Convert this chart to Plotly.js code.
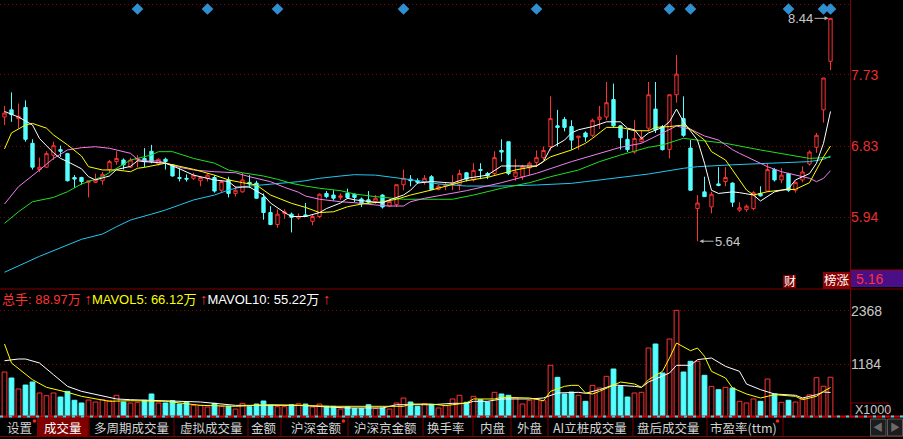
<!DOCTYPE html>
<html><head><meta charset="utf-8">
<script src="https://cdn.plot.ly/plotly-3.0.1.min.js"></script>
<style>html,body{margin:0;padding:0;background:#000;overflow:hidden}#chart{width:903px;height:439px}</style>
</head><body><div id="chart"></div>
<script>
// ---------------- DATA ----------------
const openP  = [7.20,7.29,7.18,7.32,6.87,6.54,6.57,6.72,6.79,6.74, 6.44,6.44,6.38,6.38,6.40,6.54,6.64,6.66,6.57,6.66, 6.68,6.77,6.61,6.67,6.60,6.44,6.43,6.43,6.40,6.43, 6.44,6.28,6.41,6.24,6.26,6.38,6.37,6.19,6.00,5.85, 5.99,5.98,5.93,5.97,5.89,5.95,6.24,6.22,6.19,6.24, 6.23,6.17,6.16,6.14,6.22,6.08,6.10,6.35,6.42,6.40, 6.38,6.45,6.29,6.33,6.35,6.35,6.50,6.41,6.54,6.49, 6.49,6.78,6.89,6.45,6.45,6.56,6.63,6.69,6.83,7.09, 7.17,7.08,6.94,7.00,6.97,7.17,7.20,7.42,7.09,6.92, 6.76,6.89,7.06,7.30,7.08,6.79,7.48,7.18,6.81,6.05, 6.26,6.07,6.36,6.39,6.37,6.03,6.04,6.05,6.24,6.27, 6.54,6.41,6.49,6.28,6.41,6.61,6.82,7.29,7.90];
const highP  = [7.34,7.51,7.37,7.41,6.92,6.69,6.77,6.89,6.84,6.75, 6.47,6.45,6.40,6.49,6.51,6.66,6.77,6.68,6.69,6.72, 6.81,6.85,6.68,6.69,6.60,6.56,6.48,6.50,6.45,6.49, 6.47,6.41,6.45,6.33,6.50,6.47,6.40,6.24,6.08,6.04, 6.04,6.00,5.99,6.12,5.97,6.24,6.27,6.28,6.24,6.30, 6.24,6.19,6.27,6.22,6.23,6.17,6.35,6.54,6.47,6.43, 6.47,6.47,6.35,6.37,6.47,6.54,6.51,6.62,6.62,6.51, 6.77,6.92,6.89,6.67,6.60,6.64,6.78,6.83,7.46,7.29, 7.20,7.16,6.96,7.02,7.18,7.34,7.64,7.62,7.10,7.04, 7.16,7.03,7.64,7.64,7.10,7.48,7.98,7.46,6.91,6.22, 6.45,6.26,6.57,6.57,6.38,6.13,6.10,6.27,6.33,6.62, 6.56,6.56,6.50,6.39,6.58,6.78,7.00,7.69,8.44];
const lowP   = [7.10,7.14,7.06,6.89,6.54,6.51,6.56,6.66,6.70,6.39, 6.31,6.35,6.19,6.37,6.35,6.50,6.60,6.54,6.56,6.57, 6.57,6.62,6.59,6.54,6.45,6.39,6.39,6.41,6.33,6.39, 6.25,6.26,6.19,6.20,6.25,6.31,6.17,5.91,5.84,5.81, 5.92,5.75,5.91,5.95,5.84,5.93,6.18,6.15,6.16,6.17, 6.13,6.07,6.11,6.11,6.05,6.07,6.07,6.28,6.33,6.36, 6.35,6.28,6.28,6.28,6.28,6.28,6.39,6.39,6.42,6.42, 6.47,6.64,6.47,6.40,6.41,6.47,6.57,6.66,6.78,6.83, 7.02,6.79,6.79,6.89,6.95,7.05,7.16,7.07,6.79,6.76, 6.74,6.88,7.02,7.00,6.78,6.68,7.38,6.95,6.28,5.64, 6.20,5.99,6.33,6.33,6.07,6.01,6.01,6.03,6.20,6.26, 6.39,6.37,6.26,6.25,6.38,6.59,6.75,7.13,7.79];
const closeP = [7.25,7.23,7.21,6.92,6.57,6.57,6.74,6.84,6.77,6.40, 6.42,6.39,6.40,6.41,6.48,6.64,6.68,6.60,6.66,6.68, 6.64,6.64,6.67,6.64,6.46,6.43,6.42,6.47,6.44,6.47, 6.27,6.39,6.24,6.28,6.41,6.36,6.18,6.00,5.85,5.98, 6.01,5.94,5.95,5.95,5.95,6.23,6.20,6.18,6.21,6.19, 6.19,6.11,6.13,6.18,6.07,6.14,6.35,6.43,6.40,6.38, 6.43,6.29,6.33,6.35,6.37,6.49,6.42,6.53,6.53,6.46, 6.69,6.76,6.49,6.51,6.58,6.62,6.69,6.78,7.18,7.07, 7.07,6.91,6.96,6.95,7.16,7.20,7.38,7.09,6.94,6.79, 6.93,6.93,7.48,7.04,6.79,7.48,7.74,6.97,6.28,6.12, 6.20,6.23,6.34,6.44,6.13,6.06,6.08,6.25,6.21,6.54, 6.41,6.47,6.28,6.38,6.51,6.76,6.97,7.69,8.44];
// volume, in units of 1000 hands
const volume = [1006,873,629,717,784,540,480,540,451,577, 378,318,384,340,391,369,489,340,318,333, 378,518,318,318,369,295,333,266,266,229, 310,244,244,184,310,236,295,362,266,236, 236,280,300,295,229,295,244,244,184,229, 192,192,280,192,207,184,318,429,340,244, 303,280,207,259,407,489,333,466,391,340, 555,518,489,429,295,378,407,369,1155,888, 518,562,489,355,710,651,910,1073,688,451, 540,555,1539,1628,984,1739,2376,1006,1244,1244, 933,688,614,666,651,355,318,407,355,850, 520,333,378,340,420,500,880,690,890];

// moving-average lines, read at sample candles (index, value)
const ma5Idx  = [0,2,4,5,7,8,9,11,12,13,15,16,18,19,20,23,25,27,30,32,33,35,37,38,40,41,43,45,46,48,49,50,52,54,55,57,58,59,61,64,66,69,71,74,76,77,78,80,81,82,84,86,88,89,90,91,92,94,95,96,97,99,100,101,102,104,105,107,108,110,112,113,115,116,117,118];
const ma5Val  = [7.27,7.20,7.10,6.93,6.75,6.68,6.64,6.55,6.45,6.41,6.46,6.54,6.58,6.65,6.64,6.62,6.55,6.47,6.41,6.39,6.32,6.32,6.22,6.12,6.00,5.95,5.95,6.00,6.05,6.12,6.18,6.16,6.14,6.12,6.16,6.22,6.28,6.37,6.39,6.37,6.43,6.47,6.585,6.585,6.585,6.64,6.81,6.91,7.00,7.04,7.08,7.14,7.14,7.06,7.04,6.93,7.00,7.07,7.14,7.30,7.14,6.91,6.62,6.28,6.24,6.26,6.25,6.22,6.145,6.26,6.30,6.41,6.49,6.62,6.87,7.27];
const ma10Idx = [0,1,3,4,6,7,9,11,12,14,16,18,19,20,23,25,27,30,32,34,36,38,40,41,43,45,47,49,51,54,56,58,61,64,66,69,71,73,76,78,81,83,84,86,88,90,92,93,95,97,98,100,101,103,104,106,107,109,111,113,115,116,117,118];
const ma10Val = [6.80,7.00,7.10,7.12,7.06,6.975,6.85,6.71,6.576,6.535,6.535,6.513,6.556,6.568,6.62,6.585,6.543,6.47,6.41,6.375,6.346,6.22,6.149,6.116,6.065,6.00,6.01,6.073,6.107,6.136,6.167,6.22,6.283,6.359,6.40,6.442,6.493,6.535,6.585,6.70,6.786,6.87,6.933,7.07,7.07,7.028,7.028,7.07,7.08,7.10,7.046,6.911,6.765,6.66,6.535,6.283,6.22,6.262,6.283,6.292,6.375,6.535,6.70,6.836];
const ma20Idx = [0,2,5,7,9,11,13,15,18,19,20,22,25,27,30,33,35,38,40,42,43,45,48,50,53,55,57,58,60,62,66,71,76,81,83,85,88,91,94,96,98,100,102,103,104,105,107,109,111,113,115,116,117,118];
const ma20Val = [6.107,6.325,6.535,6.68,6.786,6.815,6.827,6.807,6.744,6.669,6.648,6.648,6.568,6.535,6.513,6.50,6.45,6.388,6.317,6.255,6.208,6.167,6.136,6.124,6.095,6.082,6.082,6.136,6.179,6.21,6.275,6.375,6.493,6.64,6.694,6.744,6.82,6.87,6.996,7.087,7.046,6.962,6.911,6.85,6.79,6.744,6.66,6.576,6.513,6.47,6.43,6.388,6.43,6.526];
const ma30Idx = [0,2,4,7,9,11,14,16,18,21,22,24,27,30,32,34,37,39,41,43,45,48,50,53,55,57,62,64,67,71,75,78,82,85,88,92,94,97,99,101,103,108,112,115,118];
const ma30Val = [5.865,6.01,6.136,6.19,6.262,6.359,6.45,6.556,6.66,6.723,6.765,6.765,6.68,6.62,6.535,6.50,6.459,6.418,6.367,6.333,6.305,6.275,6.233,6.20,6.179,6.167,6.167,6.167,6.22,6.305,6.375,6.45,6.535,6.64,6.723,6.82,6.849,6.933,6.911,6.89,6.87,6.786,6.723,6.68,6.694];
const ma60Idx = [0,5,11,14,16,18,21,23,25,27,30,32,34,37,39,42,43,45,48,50,53,55,57,60,62,66,71,76,81,83,87,92,97,99,104,112,115,117,118];
const ma60Val = [5.25,5.45,5.664,5.73,5.822,5.906,5.98,6.032,6.095,6.158,6.22,6.283,6.325,6.346,6.359,6.388,6.40,6.43,6.459,6.476,6.47,6.45,6.425,6.388,6.359,6.333,6.333,6.346,6.367,6.388,6.43,6.484,6.556,6.576,6.60,6.63,6.64,6.669,6.71];
const mavol5Idx  = [0,1,4,6,9,11,15,18,23,28,33,38,42,47,52,57,58,61,63,66,67,70,71,74,75,77,78,80,81,82,83,84,85,88,90,91,92,94,95,96,98,99,100,101,103,104,106,108,110,113,114,116,117,118];
const mavol5Val  = [1628,1206,835,666,555,466,355,369,355,266,244,280,266,244,244,244,295,295,259,318,407,407,444,444,429,369,577,688,710,710,540,518,577,784,740,666,835,1021,1317,1650,1480,1539,1355,1021,873,651,518,429,503,466,391,466,577,661];
const mavol10Idx = [0,2,3,5,7,9,11,14,16,18,23,28,33,38,42,49,54,56,61,64,66,67,69,71,75,77,79,82,83,85,87,90,91,92,95,96,98,99,101,103,105,106,108,110,113,114,116,117,118];
const mavol10Val = [1257,1295,1295,1206,946,688,577,466,407,391,369,340,266,266,266,207,207,280,280,310,310,355,355,407,407,429,540,555,533,614,718,688,666,784,984,1155,1155,1281,1317,1132,1021,740,614,518,489,429,503,562,552];

// event markers (diamonds on top row), candle indices
const eventIdx = [19,29,39,57,76,95,98,112,117,118];
// axis tick labels
const priceTicks = [5.94,6.83,7.73,8.62];
const volTicks = [1184,2368];
const priceMinLabel = '5.16';
// legend texts
const legendVals = ['88.97万','66.12万','55.22万'];
// tab bar labels
const tabLabels = ['设置','成交量','多周期成交量','虚拟成交量','金额','沪深金额','沪深京金额','换手率','内盘','外盘','AI立桩成交量','盘后成交量','市盈率(ttm)'];

// ---------------- STYLE / LAYOUT ----------------
const W=903,H=439;
const PX=x=>x/W, PY=y=>(H-y)/H;
const RED='#ff3232', CYAN='#54ffff', DRED='#800000';
const N=closeP.length;
const idx=Array.from({length:N},(_,i)=>i);
const step=7, x0=4.5, plotR=850;
const xRange=[-x0/step,(plotR-x0)/step];
const pricePx=79.6; // px per price unit
const topTick=priceTicks[priceTicks.length-1];
const priceRange=[topTick-(288-4)/pricePx, topTick+4/pricePx];
const volPx=53.3/1184;
const volRange=[0,(417.3-290)/volPx];

const incr=closeP.map((c,i)=>c>=openP[i]);
const traces=[];
traces.push({type:'candlestick',x:idx,open:openP,high:highP,low:lowP,close:closeP,xaxis:'x',yaxis:'y',
  increasing:{line:{color:RED,width:1},fillcolor:'#000000'},
  decreasing:{line:{color:CYAN,width:1},fillcolor:CYAN},whiskerwidth:0,hoverinfo:'skip'});
const maDefs=[[ma60Idx,ma60Val,'#22c8f0'],[ma30Idx,ma30Val,'#1ee01e'],[ma20Idx,ma20Val,'#f080f0'],[ma10Idx,ma10Val,'#ffff00'],[ma5Idx,ma5Val,'#ffffff']];
maDefs.forEach(([xi,v,c])=>traces.push({type:'scatter',mode:'lines',x:xi,y:v,xaxis:'x',yaxis:'y',line:{color:c,width:1},hoverinfo:'skip'}));
const diamondY=priceRange[1]-9/pricePx;
traces.push({type:'scatter',mode:'markers',x:eventIdx,y:eventIdx.map(()=>diamondY),xaxis:'x',yaxis:'y',
  marker:{symbol:'diamond',size:9,color:'#2f8fd0',line:{width:0}},hoverinfo:'skip'});
traces.push({type:'bar',x:idx,y:volume,xaxis:'x',yaxis:'y2',width:0.68,
  marker:{color:incr.map(u=>u?'#000000':CYAN),line:{color:incr.map(u=>u?RED:CYAN),width:1}},hoverinfo:'skip'});
traces.push({type:'scatter',mode:'lines',x:mavol10Idx,y:mavol10Val,xaxis:'x',yaxis:'y2',line:{color:'#ffffff',width:1},hoverinfo:'skip'});
traces.push({type:'scatter',mode:'lines',x:mavol5Idx,y:mavol5Val,xaxis:'x',yaxis:'y2',line:{color:'#ffff00',width:1},hoverinfo:'skip'});

const shapes=[], ann=[];
const pline=(x1,y1,x2,y2,c,w,dash)=>shapes.push({type:'line',xref:'paper',yref:'paper',x0:PX(x1),y0:PY(y1),x1:PX(x2),y1:PY(y2),line:{color:c,width:w||1,dash:dash||'solid'},layer:'above'});
const prect=(x1,y1,x2,y2,fill,lc)=>shapes.push({type:'rect',xref:'paper',yref:'paper',x0:PX(x1),y0:PY(y1),x1:PX(x2),y1:PY(y2),fillcolor:fill,line:{color:lc||fill,width:lc?1:0},layer:'above'});
const ptext=(x,y,t,c,s,xa,opt)=>ann.push(Object.assign({xref:'paper',yref:'paper',x:PX(x),y:PY(y),text:t,showarrow:false,xanchor:xa||'center',yanchor:'middle',font:{color:c,size:s,family:'Liberation Sans, Noto Sans CJK SC, sans-serif'}},opt||{}));

// frame lines
pline(850.5,0,850.5,417,DRED,1);
pline(0,289,903,289,DRED,1);
// bottom markers in price panel
prect(851,270,903,287,'#4a0e86');
shapes.push({type:'line',xref:'paper',yref:'paper',x0:PX(851),x1:PX(903),y0:PY(270),y1:PY(270),line:{color:'#a00000',width:1},layer:'above'});
ptext(854,279,priceMinLabel,RED,14,'left');
prect(823,272,850,289,'#8b0000');
ptext(836.5,280.5,'榜涨','#ffffff',12.5);
prect(783,275,796,288,'#7a0000');
ptext(789.5,281.5,'财','#ffffff',12);
// x1000 label
prect(851,403,888,417,'rgba(0,0,0,0)',DRED);
ptext(853,410,'X1000','#c8c8c8',12.5,'left');
// min / max price callouts
const hiMax=Math.max(...highP), hiI=highP.indexOf(hiMax);
const loMin=Math.min(...lowP), loI=lowP.indexOf(loMin);
ann.push({xref:'x',yref:'y',x:hiI,y:hiMax,text:hiMax.toFixed(2),showarrow:true,ax:-30,ay:0,arrowhead:2,arrowsize:0.8,arrowwidth:1,arrowcolor:'#b4b4b4',standoff:2,font:{color:'#c8c8c8',size:13,family:'Liberation Sans, sans-serif'}});
ann.push({xref:'x',yref:'y',x:loI,y:loMin,text:loMin.toFixed(2),showarrow:true,ax:30,ay:0,arrowhead:2,arrowsize:0.8,arrowwidth:1,arrowcolor:'#b4b4b4',standoff:2,font:{color:'#c8c8c8',size:13,family:'Liberation Sans, sans-serif'}});
// volume legend
const arrowUp='<b><span style="color:#ff3232;font-size:15px">↑</span></b>';
ptext(0,298,'<span style="color:#ff3232">总手: '+legendVals[0]+' </span>'+arrowUp+'<span style="color:#ffff00">MAVOL5: '+legendVals[1]+' </span>'+arrowUp+'<span style="color:#ffffff">MAVOL10: '+legendVals[2]+' </span>'+arrowUp,'#ff3232',13,'left');
// tab bar
pline(0,416.5,903,416.5,'#d00000',2);
pline(0,416.5,903,416.5,'#30d8e8',2,'3px,6px');
pline(0,436.5,903,436.5,DRED,1);
const tabCenters=[19.5,63,131,211,264,316,385,446,492,529,590,668,743];
const tabSeps=[37.5,89,174,248,281,348,423,473,511,548,633,707,783];
prect(38,418,88.5,436,'#800000');
tabSeps.forEach(x=>pline(x,418,x,436.5,DRED,1));
tabLabels.forEach((t,i)=>ptext(tabCenters[i],427.5,t,i===1?'#ffffff':'#d2d2d2',12.5,'center',{font:{color:i===1?'#ffffff':'#d2d2d2',size:12.5,family:'Noto Sans CJK SC, sans-serif'}}));
[[34.5,421],[343.5,421],[777.5,421]].forEach(([x,y])=>shapes.push({type:'circle',xref:'paper',yref:'paper',x0:PX(x-1.8),x1:PX(x+1.8),y0:PY(y+1.8),y1:PY(y-1.8),fillcolor:'#ff2020',line:{width:0},layer:'above'}));
prect(870.5,419,886,436,'#1c1c1c','#5a5a5a');
prect(887.5,419,902.5,436,'#1c1c1c','#5a5a5a');
ptext(878.3,427.5,'◀','#6a6a6a',10);
ptext(895,427.5,'▶','#6a6a6a',10);

const axFont={family:'Liberation Sans, sans-serif',size:14};
const layout={width:W,height:H,margin:{l:0,r:0,t:0,b:0},paper_bgcolor:'#000',plot_bgcolor:'#000',showlegend:false,hovermode:false,
  boxgap:0.32,
  xaxis:{domain:[0,plotR/W],range:xRange,showgrid:false,zeroline:false,showticklabels:false,ticks:'',showline:false,rangeslider:{visible:false},fixedrange:true},
  yaxis:{domain:[PY(288),1],range:priceRange,side:'right',anchor:'x',tickvals:priceTicks,ticktext:priceTicks.map(v=>v.toFixed(2)),
    tickfont:Object.assign({color:'#e83030'},axFont),showgrid:true,gridcolor:'#8c0000',griddash:'1px,3px',gridwidth:1,zeroline:false,showline:false,ticks:'',fixedrange:true},
  yaxis2:{domain:[PY(417.3),PY(290)],range:volRange,side:'right',anchor:'x',tickvals:volTicks,ticktext:volTicks.map(String),
    tickfont:Object.assign({color:'#c8c8c8'},axFont),showgrid:true,gridcolor:'#8c0000',griddash:'1px,3px',gridwidth:1,zeroline:false,showline:false,ticks:'',fixedrange:true},
  shapes:shapes,annotations:ann};
Plotly.newPlot('chart',traces,layout,{staticPlot:true,displayModeBar:false});
</script></body></html>
